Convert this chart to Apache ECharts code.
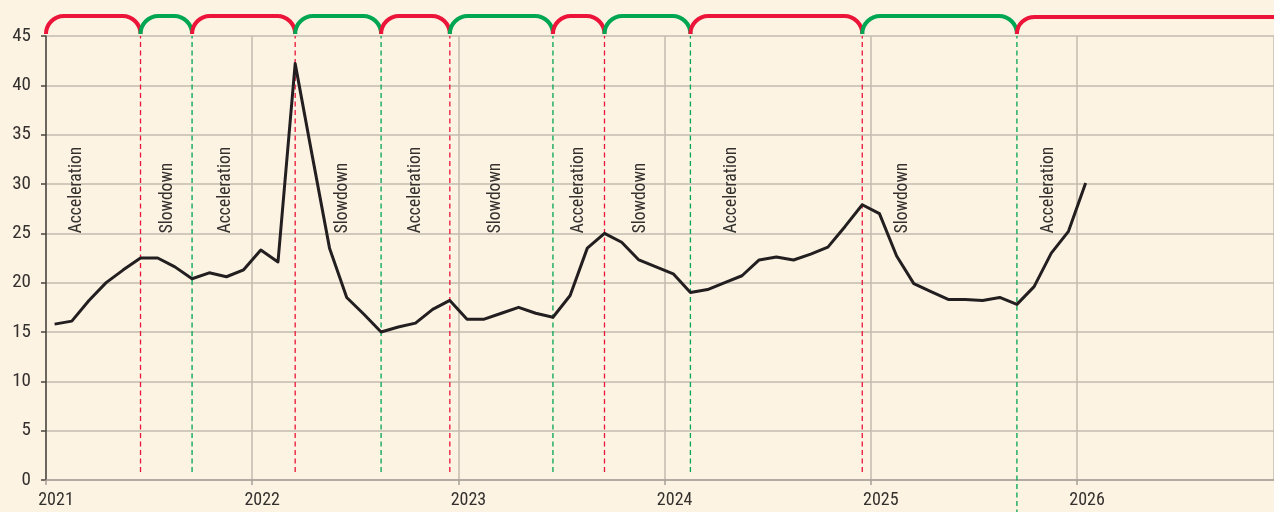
<!DOCTYPE html>
<html>
<head>
<meta charset="utf-8">
<script src="https://cdn.jsdelivr.net/npm/echarts@6/dist/echarts.min.js"></script>
<style>
  html, body { margin: 0; padding: 0; background: #fcf3e3; }
  #chart { width: 1274px; height: 512px; }
</style>
</head>
<body>
<div id="chart"></div>
<script>
// monthly values, Jan 2021 .. Jan 2026
const startMonth = '2021-01'
const values = [
  15.8, 16.1, 18.2, 20.0, 21.3, 22.5, 22.5, 21.6, 20.4, 21.0, 20.6, 21.3,
  23.3, 22.1, 42.2, 32.8, 23.5, 18.5, 16.8, 15.0, 15.5, 15.9, 17.3, 18.2,
  16.3, 16.3, 16.9, 17.5, 16.9, 16.5, 18.7, 23.5, 25.0, 24.1, 22.3, 21.6,
  20.9, 19.0, 19.3, 20.0, 20.7, 22.3, 22.6, 22.3, 22.9, 23.6, 25.7, 27.9,
  27.0, 22.7, 19.9, 19.1, 18.3, 18.3, 18.2, 18.5, 17.8, 19.6, 23.0, 25.2,
  30.1
]
// turning points (month where a phase ends)
const boundaries = ['2021-06', '2021-09', '2022-03', '2022-08', '2022-12',
  '2023-06', '2023-09', '2024-02', '2024-12', '2025-09']
const phaseNames = ['Acceleration', 'Slowdown', 'Acceleration', 'Slowdown', 'Acceleration',
  'Slowdown', 'Acceleration', 'Slowdown', 'Acceleration', 'Slowdown', 'Acceleration']
// where each phase label sits (decimal year)
const labelAt = [2021.15, 2021.592, 2021.869, 2022.437, 2022.791, 2023.18,
  2023.583, 2023.883, 2024.325, 2025.155, 2025.864]
const yTicks = [0, 5, 10, 15, 20, 25, 30, 35, 40, 45]
const xMin = 2021
const xMax = 2026.955

const RED = '#ec1438'
const GREEN = '#00a651'
const FONT = "'Liberation Sans Narrow', 'Roboto Condensed', 'Liberation Sans', sans-serif"

function toYear(m) {
  const [y, mo] = m.split('-').map(Number)
  return y + (mo - 0.5) / 12
}

const firstYear = toYear(startMonth)
const lineData = values.map((v, i) => [firstYear + i / 12, v])

const edges = [xMin].concat(boundaries.map(toYear), [xMax])
const phases = phaseNames.map((name, i) => [edges[i], edges[i + 1], i % 2, i === phaseNames.length - 1 ? 1 : 0])
const dashLines = boundaries.map((b, i) => [toYear(b), i === boundaries.length - 1 ? -3.5 : 0.8, i % 2])
const labels = labelAt.map((x) => [x, 25])

const chart = echarts.init(document.getElementById('chart'))

chart.setOption({
  backgroundColor: '#fcf3e3',
  animation: false,
  grid: { left: 46, right: 0, top: 36, bottom: 32 },
  xAxis: {
    type: 'value',
    min: xMin,
    max: xMax,
    interval: 1,
    axisLine: { show: true, lineStyle: { color: '#a8a19a', width: 1.5 } },
    axisTick: { show: true, length: 5, lineStyle: { color: '#a8a19a', width: 1.5 } },
    splitLine: { show: true, lineStyle: { color: '#c4bbb0', width: 1.5 } },
    axisLabel: {
      showMaxLabel: false,
      margin: 11,
      padding: [0, 0, 0, 20],
      color: '#33302e',
      fontFamily: FONT,
      fontSize: 18,
      formatter: (v) => Number.isInteger(v) ? String(v) : ''
    }
  },
  yAxis: {
    type: 'value',
    min: 0,
    max: 45,
    interval: 5,
    axisLine: { show: true, lineStyle: { color: '#4a4440', width: 1.5 } },
    axisTick: { show: true, length: 5, lineStyle: { color: '#4a4440', width: 1.5 } },
    splitLine: { show: true, lineStyle: { color: '#c4bbb0', width: 1.5 } },
    axisLabel: {
      margin: 15,
      color: '#33302e',
      fontFamily: FONT,
      fontSize: 19,
      formatter: (v) => yTicks.includes(v) ? String(v) : ''
    }
  },
  series: [
    {
      type: 'custom',
      z: 1,
      data: dashLines,
      renderItem: (params, api) => {
        const p0 = api.coord([api.value(0), api.value(1)])
        const p1 = api.coord([api.value(0), 45])
        return {
          type: 'line',
          shape: { x1: p0[0], y1: p0[1], x2: p1[0], y2: p1[1] },
          style: { stroke: api.value(2) === 0 ? RED : GREEN, lineWidth: 1.3, lineDash: [5, 3.5] }
        }
      }
    },
    {
      type: 'custom',
      z: 3,
      data: phases,
      renderItem: (params, api) => {
        const x0 = api.coord([api.value(0), 45])[0]
        const x1 = api.coord([api.value(1), 45])[0]
        const yb = api.coord([api.value(0), 45])[1] - 2
        const r = 18
        const last = api.value(3) === 1
        const yt = yb - r + (last ? 1 : 0)
        const k = 0.5523 * r
        let d = `M${x0} ${yb} C${x0} ${yb - k} ${x0 + r - k} ${yt} ${x0 + r} ${yt}`
        if (last) {
          d += ` L${x1 + 10} ${yt}`
        } else {
          d += ` L${x1 - r} ${yt} C${x1 - r + k} ${yt} ${x1} ${yb - k} ${x1} ${yb}`
        }
        return {
          type: 'path',
          shape: { pathData: d },
          style: { fill: null, stroke: api.value(2) === 0 ? RED : GREEN, lineWidth: 4, lineCap: 'butt' }
        }
      }
    },
    {
      type: 'custom',
      z: 4,
      data: labels,
      renderItem: (params, api) => {
        const p = api.coord([api.value(0), api.value(1)])
        return {
          type: 'text',
          x: p[0],
          y: p[1],
          rotation: Math.PI / 2,
          style: {
            text: phaseNames[params.dataIndex],
            fill: '#33302e',
            font: `17.5px ${FONT}`,
            align: 'left',
            verticalAlign: 'middle'
          }
        }
      }
    },
    {
      type: 'line',
      z: 5,
      data: lineData,
      showSymbol: false,
      symbol: 'none',
      lineStyle: { color: '#231f20', width: 3, join: 'round' }
    }
  ]
})
</script>
</body>
</html>
